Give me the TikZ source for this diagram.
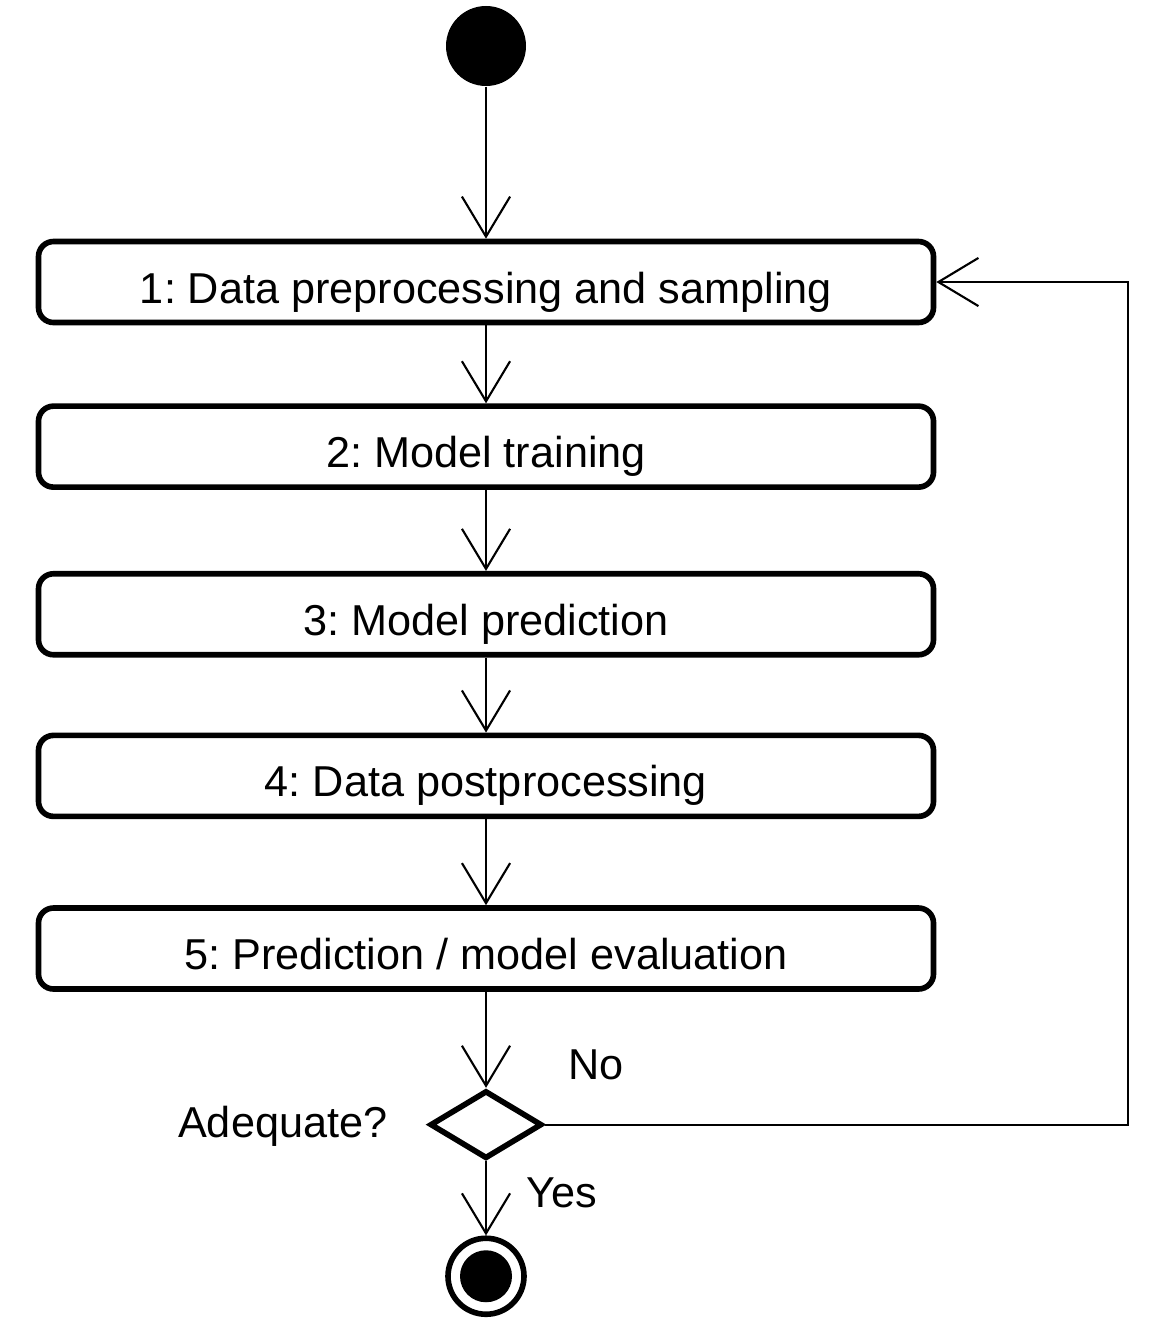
\documentclass[tikz,border=0pt]{standalone}
\usepackage{fontspec}
\setmainfont{Liberation Sans}
\usetikzlibrary{positioning,shapes.geometric,arrows.meta}
\frenchspacing

\begin{document}
\begin{tikzpicture}[
    font = \fontsize{12.3pt}{14pt}\selectfont,
    stage/.style = {draw, rounded corners=0.15cm, line width=1.6pt,
      minimum width=8.95cm, minimum height=0.81cm, inner sep=0pt,
      text height=12pt, text depth=0pt},
    lbl/.style = {inner sep=0pt},
    flow/.style = {line width=0.6pt, -{Straight Barb[length=11.4pt, width=13.7pt]}},
  ]
    \useasboundingbox (0,0) rectangle (11.48,-13.28);

    \node[circle, fill, minimum size=0.8cm, inner sep=0pt] (start) at (4.86,-0.46) {};

    \node[stage, below=1.52cm of start] (s1) {1: Data preprocessing and sampling};
    \node[stage, below=0.78cm of s1] (s2) {2: Model training};
    \node[stage, below=0.81cm of s2] (s3) {3: Model prediction};
    \node[stage, below=0.75cm of s3] (s4) {4: Data postprocessing};
    \node[stage, below=0.86cm of s4] (s5) {5: Prediction / model evaluation};

    \node[diamond, draw, line width=1.6pt, minimum width=1.12cm, minimum height=0.68cm,
      inner sep=0pt, below=0.96cm of s5] (dec) {};
    \node[circle, draw, line width=1.6pt, minimum size=0.76cm, inner sep=0pt,
      below=0.74cm of dec,
      path picture={\fill (path picture bounding box.center) circle (0.26cm);}] (stop) {};

    \coordinate[right=1.92cm of s1] (back);

    \node[lbl, anchor=base west] (no) at ([xshift=0.82cm, yshift=0.45cm]dec.center) {No};
    \node[lbl, anchor=base west] (yes) at ([xshift=0.40cm, yshift=-0.83cm]dec.center) {Yes};
    \node[lbl, anchor=base east] (adequate) at ([xshift=-0.98cm, yshift=-0.13cm]dec.center) {Adequate?};

    \draw[flow] (start) -- (s1);
    \draw[flow] (s1) -- (s2);
    \draw[flow] (s2) -- (s3);
    \draw[flow] (s3) -- (s4);
    \draw[flow] (s4) -- (s5);
    \draw[flow] (s5) -- (dec);
    \draw[flow] (dec) -- (stop);
    \draw[flow] (dec.east) -| (back) -- (s1.east);
\end{tikzpicture}
\end{document}
